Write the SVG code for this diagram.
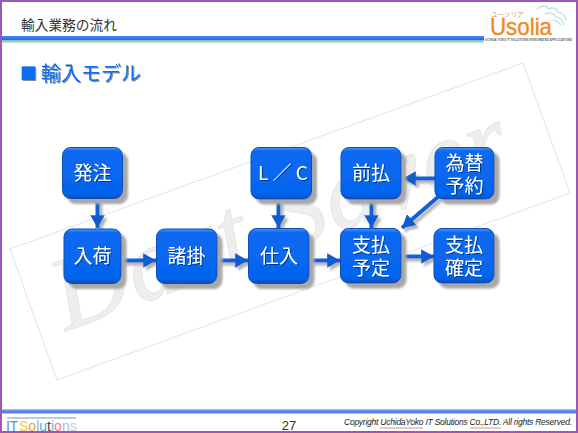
<svg xmlns="http://www.w3.org/2000/svg" width="578" height="433" viewBox="0 0 578 433">
<defs>
<filter id="sh" x="-20%" y="-20%" width="150%" height="150%"><feGaussianBlur in="SourceAlpha" stdDeviation="0.8" result="b"/><feOffset in="b" dx="5" dy="5" result="o"/><feFlood flood-color="#a8a8a8"/><feComposite in2="o" operator="in" result="s"/><feMerge><feMergeNode in="s"/><feMergeNode in="SourceGraphic"/></feMerge></filter>
<filter id="ca" x="-40%" y="-40%" width="200%" height="200%"><feGaussianBlur in="SourceAlpha" stdDeviation="0.8" result="b"/><feOffset in="b" dx="3" dy="3" result="o"/><feFlood flood-color="#b4b4b4"/><feComposite in2="o" operator="in" result="s"/><feMerge><feMergeNode in="s"/><feMergeNode in="SourceGraphic"/></feMerge></filter>
<filter id="ts" x="-10%" y="-10%" width="130%" height="130%"><feGaussianBlur in="SourceAlpha" stdDeviation="0.6" result="b"/><feOffset in="b" dx="1.200" dy="1.200" result="o"/><feFlood flood-color="#000" flood-opacity="0.45"/><feComposite in2="o" operator="in" result="s"/><feMerge><feMergeNode in="s"/><feMergeNode in="SourceGraphic"/></feMerge></filter>
<linearGradient id="top" x1="0" y1="0" x2="0" y2="1"><stop offset="0" stop-color="#4a86f5"/><stop offset="0.6" stop-color="#2a5fe8"/><stop offset="0.65" stop-color="#8fd0b8"/><stop offset="1" stop-color="#c4e2d4"/></linearGradient>
<linearGradient id="foot" x1="0" y1="0" x2="0" y2="1"><stop offset="0" stop-color="#c5d6fb"/><stop offset="0.4" stop-color="#4f7fe8"/><stop offset="0.7" stop-color="#4f7fe8"/><stop offset="1" stop-color="#dbe6fd"/></linearGradient>
<linearGradient id="nf" x1="0" y1="0" x2="0" y2="1"><stop offset="0" stop-color="#4a97f8"/><stop offset="0.07" stop-color="#0a69f2"/><stop offset="0.9" stop-color="#0565ee"/><stop offset="1" stop-color="#0a4cb8"/></linearGradient>
<marker id="ah" markerWidth="3.600" markerHeight="3.600" refX="3.200" refY="1.800" orient="auto" markerUnits="strokeWidth"><path d="M0,0 L3.200,1.800 L0,3.600 Z" fill="#0a5cd0"/></marker>
</defs>
<style>
.n rect{fill:url(#nf);stroke:#0b4fae;stroke-width:1}
.n text{font:400 19px "Noto Sans CJK JP","Noto Sans",sans-serif;fill:#fff;text-anchor:middle;filter:url(#ts)}
.c line{stroke:#0a62dc;stroke-width:4;marker-end:url(#ah)}
.w{fill:none;stroke:#d6e5fc;stroke-width:1}
</style>
<rect width="578" height="433" fill="#fff"/>
<g id="watermark">
<polygon class="w" points="523,63 570,193 57,380 10,249"/>
<text transform="translate(66,331) rotate(-20)" font-family="Liberation Serif,serif" font-style="italic" font-size="104" fill="#eeeeee" stroke="#e6e6e6" stroke-width="1" textLength="478" lengthAdjust="spacing">Dart Saver</text>
</g>
<g id="frame-top">
<text x="21" y="30" font-family="Noto Sans CJK JP,sans-serif" font-size="13.700" fill="#333">輸入業務の流れ</text>
<rect x="2" y="36" width="482" height="7" fill="url(#top)"/>
</g>
<g id="logo" font-family="Liberation Sans,sans-serif">
<path d="M537,9 q7,-6 12,0 q6,-3 9,3 q7,1 8,8 M545,14 q7,-3 11,3 q6,1 8,8 M553,20 q5,0 8,6" fill="none" stroke="#bfe6e2" stroke-width="1.500"/>
<text x="490" y="35" font-size="24" fill="#f08a1d" stroke="#f08a1d" stroke-width="0.400" textLength="62" lengthAdjust="spacingAndGlyphs">Usolia</text>
<text x="491" y="17" font-family="Noto Sans CJK JP,sans-serif" font-size="6.500" fill="#c9a070">ユーソリア</text>
<text x="485" y="40.500" font-weight="700" font-size="3.300" fill="#666" textLength="87" lengthAdjust="spacingAndGlyphs">UCHIDA YOKO IT SOLUTIONS INTEGRATED APPLICATIONS</text>
</g>
<g id="title" font-family="Noto Sans CJK JP,sans-serif" fill="#0a6cf0" filter="url(#ts)"><text x="20" y="80" font-size="17">■</text><text x="41" y="81" font-size="20">輸入モデル</text></g>
<g class="c" id="connectors" filter="url(#ca)">
<line x1="97.500" y1="199" x2="97.500" y2="228"/>
<line x1="121" y1="260.500" x2="156" y2="260.500"/>
<line x1="217" y1="260.500" x2="248" y2="260.500"/>
<line x1="278.500" y1="199" x2="278.500" y2="228"/>
<line x1="309" y1="260.500" x2="340" y2="260.500"/>
<line x1="371.500" y1="199" x2="371.500" y2="228"/>
<line x1="436" y1="178.500" x2="403" y2="178.500"/>
<line x1="438" y1="197" x2="402" y2="228"/>
<line x1="401" y1="256.500" x2="434" y2="256.500"/>
</g>
<g id="n-hatchu" class="n" filter="url(#sh)"><rect x="62.500" y="147.500" width="60" height="51" rx="8"/><text x="92.500" y="180">発注</text></g>
<g id="n-nyuka" class="n" filter="url(#sh)"><rect x="64" y="229" width="57" height="54.500" rx="8"/><text x="92.500" y="263">入荷</text></g>
<g id="n-shokake" class="n" filter="url(#sh)"><rect x="156.500" y="229" width="60.500" height="54.500" rx="8"/><text x="186.500" y="263">諸掛</text></g>
<g id="n-lc" class="n" filter="url(#sh)"><rect x="251" y="147.500" width="60.500" height="51.500" rx="8"/><text x="283" y="180">L ／ C</text></g>
<g id="n-shiire" class="n" filter="url(#sh)"><rect x="248.500" y="228.500" width="60.500" height="55" rx="8"/><text x="279" y="263">仕入</text></g>
<g id="n-maebarai" class="n" filter="url(#sh)"><rect x="341" y="147.500" width="60" height="51.500" rx="8"/><text x="371" y="180">前払</text></g>
<g id="n-kawase" class="n" filter="url(#sh)"><rect x="435" y="147.500" width="59" height="51.500" rx="8"/><text x="464.500" y="170">為替</text><text x="464.500" y="193">予約</text></g>
<g id="n-yotei" class="n" filter="url(#sh)"><rect x="340.500" y="228.500" width="60.500" height="54.500" rx="8"/><text x="371" y="252">支払</text><text x="371" y="275">予定</text></g>
<g id="n-kakutei" class="n" filter="url(#sh)"><rect x="434" y="228.500" width="60" height="54.500" rx="8"/><text x="464" y="252">支払</text><text x="464" y="275">確定</text></g>
<g id="frame-bottom">
<rect x="2" y="409" width="574" height="5" fill="url(#foot)"/>
<path d="M7,418 H76" stroke="#9fb8de" stroke-width="1.500"/>
<text x="6" y="430.500" font-family="Liberation Sans,sans-serif" font-size="14" fill="#5b8fd8" textLength="12" lengthAdjust="spacing">IT</text>
<text x="19" y="431" font-family="Liberation Sans,sans-serif" font-size="14"><tspan fill="#f5c842">S</tspan><tspan fill="#e9a23b">o</tspan><tspan fill="#7fb2e5">l</tspan><tspan fill="#5aa0d8">u</tspan><tspan fill="#444">t</tspan><tspan fill="#7fb2e5">i</tspan><tspan fill="#f07a9a">o</tspan><tspan fill="#b8b8e0">n</tspan><tspan fill="#c8c8e8">s</tspan></text>
<text x="289" y="430" font-family="Liberation Sans,sans-serif" font-size="13" fill="#333" text-anchor="middle">27</text>
<text x="572" y="425" font-family="Liberation Sans,sans-serif" font-style="italic" font-size="8.500" fill="#222" text-anchor="end" textLength="228" lengthAdjust="spacing">Copyright UchidaYoko IT Solutions Co.,LTD. All rights Reserved.</text>
<path d="M380,428 H423 M470,428 H501" stroke="#e06060" stroke-width="0.700"/>
</g>
<rect x="1" y="1" width="576" height="431" fill="none" stroke="#9b59b6" stroke-width="2"/>
</svg>
